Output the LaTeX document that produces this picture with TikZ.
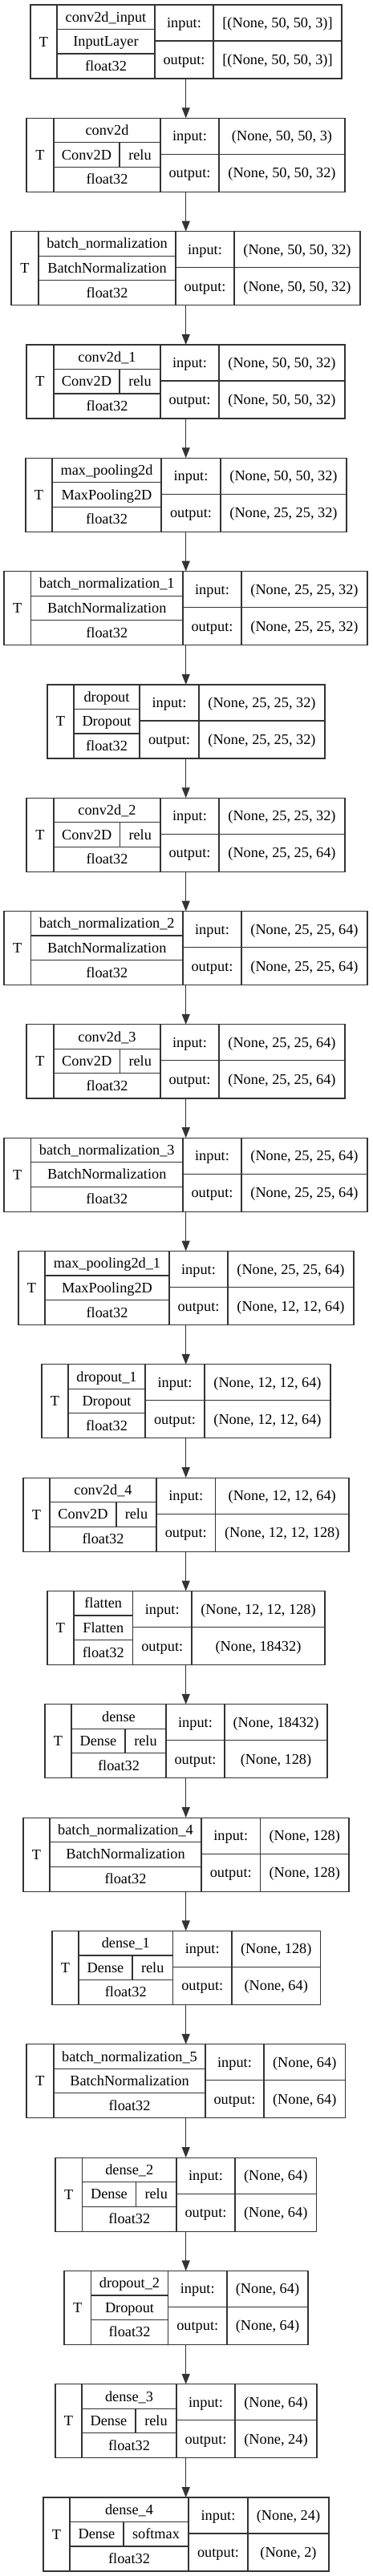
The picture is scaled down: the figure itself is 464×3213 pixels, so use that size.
\documentclass[tikz,border=0pt]{standalone}
\usepackage{fontspec}
\setmainfont{Liberation Serif}
\usetikzlibrary{arrows.meta}
\tikzset{
  lw/.style={line width=1.2pt, draw=black!80},
  lbl/.style={inner sep=0pt, outer sep=0pt, text height=14pt, text depth=2pt, font=\fontsize{18.3}{20}\selectfont},
  outerbox/.style={lw, anchor=north west, minimum height=92pt, inner sep=0pt, outer sep=0pt},
  arr/.style={lw, -{Triangle[length=13pt,width=10pt]}}
}
\newcommand\geom[6]{\def\gL{#1}\def\gT{#2}\def\gA{#3}\def\gN{#4}\def\gIO{#5}\def\gR{#6}}
\newcommand\layer[6]{%
  \pgfmathsetmacro\gY{6+141.32*#1}%
  \pgfmathsetmacro\gW{\gR-\gL}%
  \node[outerbox, minimum width=\gW pt] (b#1) at (\gL,\gY) {};
  \pgfmathsetmacro\yA{\gY+30.5}\pgfmathsetmacro\yB{\gY+61}\pgfmathsetmacro\yM{\gY+45}\pgfmathsetmacro\yE{\gY+92}%
  \draw[lw] (\gT,\gY) -- (\gT,\yE) (\gN,\gY) -- (\gN,\yE) (\gIO,\gY) -- (\gIO,\yE)
    (\gT,\yA) -- (\gN,\yA) (\gT,\yB) -- (\gN,\yB) (\gN,\yM) -- (\gR,\yM);
  \pgfmathsetmacro\xT{(\gL+\gT)/2}\pgfmathsetmacro\xC{(\gT+\gN)/2}%
  \pgfmathsetmacro\xI{(\gN+\gIO)/2}\pgfmathsetmacro\xS{(\gIO+\gR)/2}%
  \pgfmathsetmacro\yTT{\gY+46}\pgfmathsetmacro\yNm{\gY+15.25}\pgfmathsetmacro\yCl{\gY+45.75}%
  \pgfmathsetmacro\yDt{\gY+76.5}\pgfmathsetmacro\yIn{\gY+22.5}\pgfmathsetmacro\yOut{\gY+68.5}%
  \node[lbl] (b#1t) at (\xT,\yTT) {T};
  \node[lbl] (b#1n) at (\xC,\yNm) {#2};
  \def\tmpact{#4}%
  \ifx\tmpact\empty
    \node[lbl] (b#1c) at (\xC,\yCl) {#3};
  \else
    \draw[lw] (\gA,\yA) -- (\gA,\yB);
    \pgfmathsetmacro\xCa{(\gT+\gA)/2}\pgfmathsetmacro\xCb{(\gA+\gN)/2}%
    \node[lbl] (b#1c) at (\xCa,\yCl) {#3};
    \node[lbl] (b#1a) at (\xCb,\yCl) {#4};
  \fi
  \node[lbl] (b#1d) at (\xC,\yDt) {float32};
  \node[lbl] (b#1i) at (\xI,\yIn) {input:};
  \node[lbl] (b#1o) at (\xI,\yOut) {output:};
  \node[lbl] (b#1is) at (\xS,\yIn) {#5};
  \node[lbl] (b#1os) at (\xS,\yOut) {#6};
}
\begin{document}
\begin{tikzpicture}[x=1pt,y=-1pt]
\useasboundingbox (0,0) rectangle (464,3213);
\coordinate (ax) at (231.7,0);
\geom{38}{71}{0}{193}{266}{426}
\layer{0}{conv2d\_input}{InputLayer}{}{[(None, 50, 50, 3)]}{[(None, 50, 50, 3)]}
\geom{33}{67}{149}{200}{273}{430}
\layer{1}{conv2d}{Conv2D}{relu}{(None, 50, 50, 3)}{(None, 50, 50, 32)}
\geom{14}{48}{0}{219}{292}{449}
\layer{2}{batch\_normalization}{BatchNormalization}{}{(None, 50, 50, 32)}{(None, 50, 50, 32)}
\geom{33}{67}{149}{200}{273}{430}
\layer{3}{conv2d\_1}{Conv2D}{relu}{(None, 50, 50, 32)}{(None, 50, 50, 32)}
\geom{32}{65}{0}{201}{275}{432}
\layer{4}{max\_pooling2d}{MaxPooling2D}{}{(None, 50, 50, 32)}{(None, 25, 25, 32)}
\geom{5}{38.5}{0}{228}{301}{458}
\layer{5}{batch\_normalization\_1}{BatchNormalization}{}{(None, 25, 25, 32)}{(None, 25, 25, 32)}
\geom{59}{92}{0}{174}{248}{405}
\layer{6}{dropout}{Dropout}{}{(None, 25, 25, 32)}{(None, 25, 25, 32)}
\geom{33}{67}{149.5}{200}{273}{430}
\layer{7}{conv2d\_2}{Conv2D}{relu}{(None, 25, 25, 32)}{(None, 25, 25, 64)}
\geom{5}{38.5}{0}{228}{301}{458}
\layer{8}{batch\_normalization\_2}{BatchNormalization}{}{(None, 25, 25, 64)}{(None, 25, 25, 64)}
\geom{33}{67}{149.5}{200}{273}{430}
\layer{9}{conv2d\_3}{Conv2D}{relu}{(None, 25, 25, 64)}{(None, 25, 25, 64)}
\geom{5}{38.5}{0}{228}{301}{458}
\layer{10}{batch\_normalization\_3}{BatchNormalization}{}{(None, 25, 25, 64)}{(None, 25, 25, 64)}
\geom{23}{56}{0}{211}{284}{441}
\layer{11}{max\_pooling2d\_1}{MaxPooling2D}{}{(None, 25, 25, 64)}{(None, 12, 12, 64)}
\geom{52}{85}{0}{181}{255}{412}
\layer{12}{dropout\_1}{Dropout}{}{(None, 12, 12, 64)}{(None, 12, 12, 64)}
\geom{29}{62}{145}{195}{268.5}{435}
\layer{13}{conv2d\_4}{Conv2D}{relu}{(None, 12, 12, 64)}{(None, 12, 12, 128)}
\geom{59}{92}{0}{165.5}{239}{405}
\layer{14}{flatten}{Flatten}{}{(None, 12, 12, 128)}{(None, 18432)}
\geom{56}{89}{156}{207}{280}{408}
\layer{15}{dense}{Dense}{relu}{(None, 18432)}{(None, 128)}
\geom{29}{62}{0}{251}{324.5}{435}
\layer{16}{batch\_normalization\_4}{BatchNormalization}{}{(None, 128)}{(None, 128)}
\geom{65}{98}{165}{215.5}{289}{399.5}
\layer{17}{dense\_1}{Dense}{relu}{(None, 128)}{(None, 64)}
\geom{33}{67}{0}{256}{329}{430.5}
\layer{18}{batch\_normalization\_5}{BatchNormalization}{}{(None, 64)}{(None, 64)}
\geom{69}{102.5}{169.5}{220}{293}{394.5}
\layer{19}{dense\_2}{Dense}{relu}{(None, 64)}{(None, 64)}
\geom{80}{113.5}{0}{209.5}{283}{384}
\layer{20}{dropout\_2}{Dropout}{}{(None, 64)}{(None, 64)}
\geom{69}{102}{169}{220}{293}{395}
\layer{21}{dense\_3}{Dense}{relu}{(None, 64)}{(None, 24)}
\geom{54}{87}{154}{235}{309}{410}
\layer{22}{dense\_4}{Dense}{softmax}{(None, 24)}{(None, 2)}
\foreach \i [evaluate=\i as \j using int(\i+1)] in {0,...,21}
  \draw[arr] (b\i.south -| ax) -- (b\j.north -| ax);
\end{tikzpicture}
\end{document}
